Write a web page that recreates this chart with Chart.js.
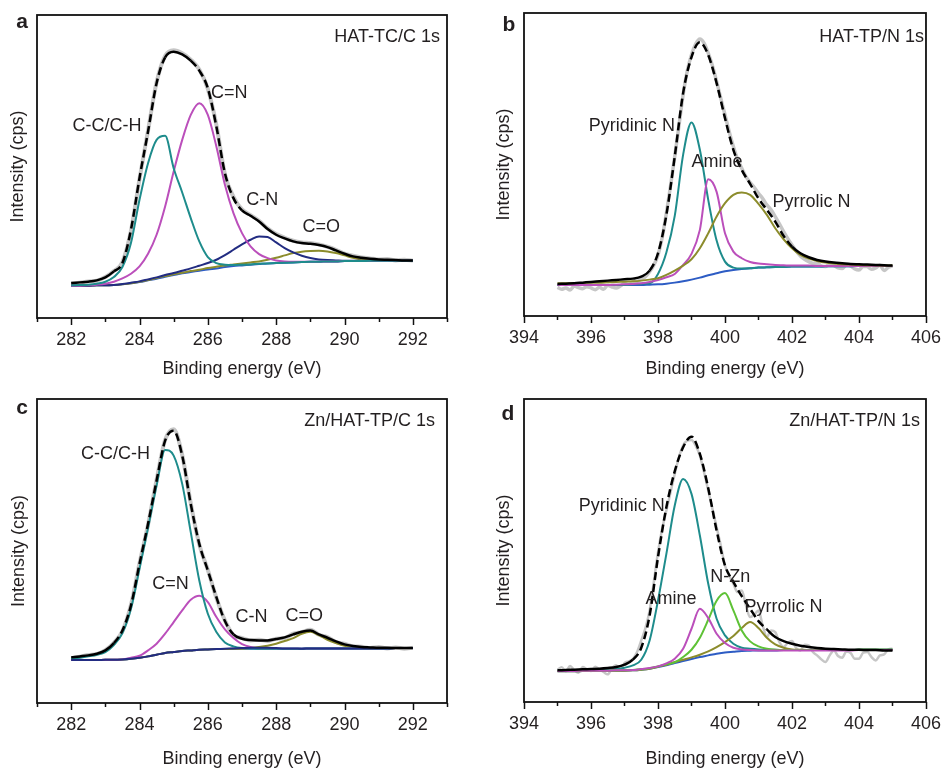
<!DOCTYPE html>
<html>
<head>
<meta charset="utf-8">
<script src="https://cdn.jsdelivr.net/npm/chart.js@4.4.1/dist/chart.umd.min.js"></script>
<style>
  body { margin: 0; background: #fff; }
  #wrap { position: relative; width: 952px; height: 768px; overflow: hidden; }
  .panel { position: absolute; width: 476px; height: 384px; }
</style>
</head>
<body>
<div id="wrap">
  <div class="panel" style="left:0;top:0"><canvas id="pa" width="476" height="384"></canvas></div>
  <div class="panel" style="left:476px;top:0"><canvas id="pb" width="476" height="384"></canvas></div>
  <div class="panel" style="left:0;top:384px"><canvas id="pc" width="476" height="384"></canvas></div>
  <div class="panel" style="left:476px;top:384px"><canvas id="pd" width="476" height="384"></canvas></div>
</div>
<script>
// ── C 1s panels (a, c): binding energy grid, eV ─────────────
const energyC1s = [282, 282.25, 282.5, 282.75, 283, 283.25, 283.5, 283.75, 284, 284.25,
  284.5, 284.75, 285, 285.25, 285.5, 285.75, 286, 286.25, 286.5, 286.75,
  287, 287.25, 287.5, 287.75, 288, 288.25, 288.5, 288.75, 289, 289.25,
  289.5, 289.75, 290, 290.25, 290.5, 290.75, 291, 291.25, 291.5, 291.75, 292];

// ── N 1s panels (b, d): binding energy grid, eV ─────────────
const energyN1s = [395, 395.25, 395.5, 395.75, 396, 396.25, 396.5, 396.75, 397, 397.25,
  397.5, 397.75, 398, 398.25, 398.5, 398.75, 399, 399.25, 399.5, 399.75,
  400, 400.25, 400.5, 400.75, 401, 401.25, 401.5, 401.75, 402, 402.25,
  402.5, 402.75, 403, 403.25, 403.5, 403.75, 404, 404.25, 404.5, 404.75, 405];

// Rejilla más fina para los datos medidos (ruidosos) del N 1s
const energyN1sRaw = [
  395, 395.125, 395.25, 395.375, 395.5, 395.625, 395.75, 395.875,
  396, 396.125, 396.25, 396.375, 396.5, 396.625, 396.75, 396.875,
  397, 397.125, 397.25, 397.375, 397.5, 397.625, 397.75, 397.875,
  398, 398.125, 398.25, 398.375, 398.5, 398.625, 398.75, 398.875,
  399, 399.125, 399.25, 399.375, 399.5, 399.625, 399.75, 399.875,
  400, 400.125, 400.25, 400.375, 400.5, 400.625, 400.75, 400.875,
  401, 401.125, 401.25, 401.375, 401.5, 401.625, 401.75, 401.875,
  402, 402.125, 402.25, 402.375, 402.5, 402.625, 402.75, 402.875,
  403, 403.125, 403.25, 403.375, 403.5, 403.625, 403.75, 403.875,
  404, 404.125, 404.25, 404.375, 404.5, 404.625, 404.75, 404.875, 405];

const ticksC1s = [282, 284, 286, 288, 290, 292];
const ticksN1s = [394, 396, 398, 400, 402, 404, 406];

// ── a: HAT-TC/C 1s (intensidad en unidades arbitrarias) ─────
const rawA = [103,106,110,112,123,141,168,262,418,563, 708,787,804,795,776,746,688,580,432,364,
  326,309,292,269,252,241,232,227,225,221, 214,205,193,187,182,179,176,177,173,175, 172];
const fitA = [105,107,109,113,122,140,165,265,420,560, 705,783,800,792,773,743,690,575,435,360,
  323,307,290,267,250,239,230,225,223,219, 213,203,193,185,181,178,176,175,174,173, 173];
const ccA = [98,99,100,103,109,123,153,225,355,465, 535,547,450,377,300,230,183,165,160,159,
  160,161,163,164,165,166,167,168,169,169, 170,170,171,171,171,172,172,172,172,172, 172];
const cnDoubleA = [97,97,98,100,103,109,119,133,155,193, 250,335,440,535,610,645,610,515,400,315,
  255,215,192,180,173,170,169,169,169,169, 170,170,171,171,171,172,172,172,172,172, 172];
const cnSingleA = [97,97,97,98,98,99,102,106,110,116, 122,129,135,142,149,157,165,175,189,205,
  221,235,245,243,227,210,197,187,180,176, 174,173,172,172,172,172,172,172,172,172, 172];
const coA = [97,97,97,98,98,99,101,104,109,114, 120,126,131,136,141,145,150,154,158,161,
  164,167,170,175,181,188,195,199,201,202, 200,195,188,181,176,173,172,172,172,172, 172];
const bgA = [97,97,97,98,98,99,101,104,108,113, 118,124,129,134,138,142,146,149,153,156,
  158,160,162,164,165,166,167,168,169,169, 170,170,171,171,171,172,172,172,172,172, 172];

// ── b: HAT-TP/N 1s ──────────────────────────────────────────
const rawB = [86,80,84,78,90,85,82,88, 84,79,86,80,92,87,84,90,
  98,95,102,104,110,118,133,152, 183,235,308,390,478,570,663,735,
  783,815,830,818,788,750,703,652, 603,552,508,470,443,418,400,385,
  368,352,333,318,298,276,253,232, 213,195,180,170,163,158,158,150,
  148,155,152,144,142,153,150,141, 138,149,148,140,144,152,136,146, 150];
const fitB = [96,97,98,100,102,104,106,108,110,112, 118,136,188,303,478,668,776,820,782,698,
  593,498,438,396,352,318,283,240,208,188, 176,168,163,160,158,156,155,154,153,152, 151];
const pyridinicB = [93,93,93,93,93,93,93,93,93,95, 97,98,126,190,300,483,580,498,348,226,
  163,145,142,143,145,146,147,147,148,148, 148,148,149,149,149,149,150,150,150,150, 150];
const amineB = [93,93,93,93,93,93,93,94,95,96, 98,102,108,116,126,153,186,258,410,372,
  248,193,173,162,157,155,153,152,151,151, 151,150,150,150,150,150,150,150,150,150, 150];
const pyrrolicB = [98,98,99,99,100,100,101,102,103,104, 106,109,113,123,136,151,170,203,248,298,
  338,363,370,363,336,303,263,230,203,183, 172,165,160,157,155,154,153,152,152,151, 151];
const bgB = [93,93,93,93,93,93,93,93,93,93, 93,94,95,97,100,104,109,115,122,128,
  134,138,141,143,145,146,147,147,148,148, 148,148,149,149,149,149,150,150,150,150, 150];

// ── c: Zn/HAT-TP/C 1s ───────────────────────────────────────
const rawC = [135,139,144,147,159,181,216,295,420,536, 670,790,822,745,600,476,400,316,248,204,
  195,188,190,186,193,195,208,213,220,205, 198,183,178,170,169,165,168,164,167,163, 166];
const fitC = [137,140,143,148,158,180,218,293,418,538, 668,788,818,743,598,478,398,318,246,206,
  193,189,188,188,192,197,206,214,218,206, 196,185,176,171,168,167,166,166,165,165, 165];
const ccC = [133,136,140,145,153,174,210,283,403,526, 653,760,743,658,513,368,268,213,182,170,
  165,164,163,163,163,163,163,163,164,164, 164,164,164,164,164,164,164,164,165,165, 165];
const cnDoubleC = [129,129,129,129,130,130,131,136,142,158, 178,208,243,278,310,322,303,258,221,195,
  177,168,164,163,163,163,163,163,164,164, 164,164,164,164,164,164,164,164,165,165, 165];
const cnSingleC = [129,129,129,129,130,130,131,133,136,140, 145,150,153,156,158,160,161,162,163,164,
  165,166,166,166,165,164,164,163,164,164, 164,164,164,164,164,164,164,164,165,165, 165];
const coC = [129,129,129,129,130,130,131,133,136,140, 145,150,153,156,158,160,161,162,162,163,
  163,165,168,172,178,186,195,208,214,204, 190,180,172,168,165,164,164,164,165,165, 165];
const bgC = [129,129,129,129,130,130,131,133,136,140, 145,150,153,156,158,160,161,162,162,163,
  163,163,163,163,163,163,163,163,164,164, 164,164,164,164,164,164,164,164,165,165, 165];

// ── d: Zn/HAT-TP/N 1s ───────────────────────────────────────
const rawD = [97,104,92,108,96,88,105,99, 93,106,98,90,83,101,110,96,
  117,122,129,150,185,222,275,360, 450,520,575,630,685,735,770,785,
  787,770,740,690,635,580,525,470, 410,380,355,330,335,290,255,262,
  275,230,195,215,210,180,165,178, 183,162,155,172,170,150,140,128,
  120,140,155,138,133,152,147,130, 130,148,150,135,125,140,143,158, 160];
const fitD = [95,96,97,98,99,100,102,105,112,127, 163,260,435,585,693,765,797,745,642,515,
  410,361,318,280,243,218,195,183,175,169, 165,162,160,159,158,157,157,156,156,155, 155];
const pyridinicD = [94,94,95,95,96,96,97,99,103,110, 127,185,305,445,590,670,625,500,355,250,
  200,175,163,160,158,157,157,156,156,156, 156,156,156,156,156,156,157,157,157,157, 157];
const amineD = [93,93,93,94,94,94,94,95,95,96, 99,102,107,116,130,160,220,280,252,205,
  177,163,158,156,155,155,155,155,155,155, 155,155,155,155,155,155,156,156,156,156, 156];
const nznD = [93,93,93,94,94,94,94,95,95,96, 98,101,107,113,119,135,157,193,247,304,
  327,275,215,182,167,160,157,156,156,156, 156,156,156,156,156,156,157,157,157,157, 157];
const pyrrolicD = [92,92,92,93,93,93,93,94,94,95, 97,100,106,112,120,127,134,142,152,165,
  180,198,222,240,222,193,173,163,158,157, 156,156,156,156,156,156,157,157,157,157, 157];
const bgD = [92,92,92,93,93,93,93,94,94,95, 97,100,105,110,117,123,129,135,140,145,
  149,151,153,154,155,155,155,156,156,156, 156,156,156,156,156,156,157,157,157,157, 157];


// ─────────────────────────────────────────────────────────────
// Estilos comunes
// ─────────────────────────────────────────────────────────────
const FONT = '"Liberation Sans", Arial, Helvetica, sans-serif';
const TXT = '#231f20';
const COLORES = {
  raw: '#c6c6c6', fit: '#000000', teal: '#1e8c8c', magenta: '#bb4fbb',
  navy: '#222c82', olive: '#8c8c2c', blue: '#2d5cc4', green: '#5ec236'
};

// Marco, marcas del eje, letras y etiquetas de los picos
const decorPlugin = {
  id: 'decor',
  afterDraw(chart, args, o) {
    const { ctx, chartArea: ca, scales: { x, y } } = chart;
    ctx.save();
    ctx.strokeStyle = '#111';
    ctx.lineWidth = 1.5;
    x.ticks.forEach(t => {
      const px = Math.round(x.getPixelForValue(t.value)) + 0.5;
      const len = t.value % 2 === 0 ? 7 : 4;
      ctx.beginPath();
      ctx.moveTo(px, ca.bottom);
      ctx.lineTo(px, ca.bottom + len);
      ctx.stroke();
    });
    ctx.lineWidth = 1.8;
    ctx.strokeRect(ca.left, ca.top, ca.right - ca.left, ca.bottom - ca.top);

    ctx.fillStyle = TXT;
    ctx.font = '18px ' + FONT;
    ctx.textAlign = 'center';
    ctx.textBaseline = 'middle';
    o.notes.forEach(n => {
      ctx.fillText(n.text, x.getPixelForValue(n.x), y.getPixelForValue(n.y));
    });
    ctx.textAlign = 'right';
    ctx.fillText(o.title, o.titleX, o.titleY);
    ctx.font = 'bold 21px ' + FONT;
    ctx.textAlign = 'center';
    ctx.fillText(o.letter, o.letterX, o.letterY);
    ctx.restore();
  }
};

// Línea punteada sólo donde la curva es empinada (como en el original)
function dashSteep(c) {
  const dx = Math.abs(c.p1.x - c.p0.x);
  const dy = Math.abs(c.p1.y - c.p0.y);
  return dy > 0.95 * dx ? [8, 4] : [];
}

function serie(energy, values, color, width, extra) {
  return Object.assign({
    data: energy.map((e, i) => ({ x: e, y: values[i] })),
    borderColor: color,
    borderWidth: width,
    pointRadius: 0,
    fill: false,
    cubicInterpolationMode: 'monotone'
  }, extra || {});
}

function crearPanel(id, p) {
  const ctx = document.getElementById(id).getContext('2d');
  return new Chart(ctx, {
    type: 'line',
    data: { datasets: p.datasets },
    options: {
      responsive: false,
      animation: false,
      devicePixelRatio: 1,
      layout: { padding: { left: 0, top: p.box.top, right: 476 - p.box.right, bottom: 0 } },
      plugins: {
        legend: { display: false },
        tooltip: { enabled: false },
        decor: p.decor
      },
      scales: {
        x: {
          type: 'linear',
          min: p.xMin, max: p.xMax,
          afterFit: s => { s.height = 384 - p.box.bottom; },
          afterBuildTicks: s => {
            const t = [];
            for (let v = p.xMin; v <= p.xMax; v++) t.push({ value: v });
            s.ticks = t;
          },
          grid: { display: false, drawTicks: false },
          border: { display: false },
          ticks: {
            autoSkip: false, maxRotation: 0, padding: 11, color: TXT,
            font: { family: FONT, size: 18 },
            callback: v => (p.tickLabels.includes(v) ? String(v) : '')
          },
          title: {
            display: true, text: 'Binding energy (eV)', color: TXT,
            font: { family: FONT, size: 18, lineHeight: 1 },
            padding: { top: 0, bottom: p.xTitlePad }
          }
        },
        y: {
          min: 0, max: p.yMax,
          afterFit: s => { s.width = p.box.left; },
          grid: { display: false, drawTicks: false },
          border: { display: false },
          ticks: { display: false },
          title: {
            display: true, text: 'Intensity (cps)', color: TXT,
            font: { family: FONT, size: 18, lineHeight: 1 },
            padding: { top: p.yTitlePad, bottom: 0 }
          }
        }
      }
    },
    plugins: [decorPlugin]
  });
}

const dashed = { segment: { borderDash: dashSteep } };

// ── Panel a ─────────────────────────────────────────────────
crearPanel('pa', {
  xMin: 281, xMax: 293, yMax: 910, tickLabels: ticksC1s,
  box: { left: 37, top: 15, right: 447, bottom: 318 },
  xTitlePad: 6, yTitlePad: 9,
  datasets: [
    serie(energyC1s, fitA, COLORES.fit, 2.5, dashed),
    serie(energyC1s, ccA, COLORES.teal, 2),
    serie(energyC1s, cnDoubleA, COLORES.magenta, 2),
    serie(energyC1s, cnSingleA, COLORES.navy, 2),
    serie(energyC1s, coA, COLORES.olive, 2),
    serie(energyC1s, bgA, COLORES.blue, 2),
    serie(energyC1s, rawA, COLORES.raw, 4)
  ],
  decor: {
    letter: 'a', letterX: 22, letterY: 22,
    title: 'HAT-TC/C 1s', titleX: 440, titleY: 37,
    notes: [
      { text: 'C-C/C-H', x: 283.05, y: 577 },
      { text: 'C=N', x: 286.63, y: 677 },
      { text: 'C-N', x: 287.59, y: 353 },
      { text: 'C=O', x: 289.32, y: 272 }
    ]
  }
});

// ── Panel b ─────────────────────────────────────────────────
crearPanel('pb', {
  xMin: 394, xMax: 406, yMax: 908, tickLabels: ticksN1s,
  box: { left: 48, top: 13, right: 457, bottom: 316 },
  xTitlePad: 6, yTitlePad: 19,
  datasets: [
    serie(energyN1s, fitB, COLORES.fit, 2.5, dashed),
    serie(energyN1s, pyrrolicB, COLORES.olive, 2),
    serie(energyN1s, amineB, COLORES.magenta, 2),
    serie(energyN1s, pyridinicB, COLORES.teal, 2),
    serie(energyN1s, bgB, COLORES.blue, 2),
    serie(energyN1sRaw, rawB, COLORES.raw, 3.5)
  ],
  decor: {
    letter: 'b', letterX: 33, letterY: 25,
    title: 'HAT-TP/N 1s', titleX: 448, titleY: 37,
    notes: [
      { text: 'Pyridinic N', x: 397.22, y: 570 },
      { text: 'Amine', x: 399.76, y: 461 },
      { text: 'Pyrrolic N', x: 402.58, y: 343 }
    ]
  }
});

// ── Panel c ─────────────────────────────────────────────────
crearPanel('pc', {
  xMin: 281, xMax: 293, yMax: 913, tickLabels: ticksC1s,
  box: { left: 37, top: 15, right: 447, bottom: 319 },
  xTitlePad: 0, yTitlePad: 10,
  datasets: [
    serie(energyC1s, fitC, COLORES.fit, 2.5, dashed),
    serie(energyC1s, cnSingleC, COLORES.navy, 2),
    serie(energyC1s, ccC, COLORES.teal, 2),
    serie(energyC1s, cnDoubleC, COLORES.magenta, 2),
    serie(energyC1s, coC, COLORES.olive, 2),
    serie(energyC1s, bgC, COLORES.blue, 2),
    serie(energyC1s, rawC, COLORES.raw, 4)
  ],
  decor: {
    letter: 'c', letterX: 22, letterY: 24,
    title: 'Zn/HAT-TP/C 1s', titleX: 435, titleY: 37,
    notes: [
      { text: 'C-C/C-H', x: 283.3, y: 748 },
      { text: 'C=N', x: 284.91, y: 358 },
      { text: 'C-N', x: 287.28, y: 258 },
      { text: 'C=O', x: 288.82, y: 261 }
    ]
  }
});

// ── Panel d ─────────────────────────────────────────────────
crearPanel('pd', {
  xMin: 394, xMax: 406, yMax: 910, tickLabels: ticksN1s,
  box: { left: 48, top: 15, right: 455, bottom: 318 },
  xTitlePad: 0, yTitlePad: 19,
  datasets: [
    serie(energyN1s, fitD, COLORES.fit, 2.5, dashed),
    serie(energyN1s, amineD, COLORES.magenta, 2),
    serie(energyN1s, nznD, COLORES.green, 2),
    serie(energyN1s, pyrrolicD, COLORES.olive, 2),
    serie(energyN1s, pyridinicD, COLORES.teal, 2),
    serie(energyN1s, bgD, COLORES.blue, 2),
    serie(energyN1sRaw, rawD, COLORES.raw, 2.5)
  ],
  decor: {
    letter: 'd', letterX: 32, letterY: 30,
    title: 'Zn/HAT-TP/N 1s', titleX: 444, titleY: 37,
    notes: [
      { text: 'Pyridinic N', x: 396.92, y: 590 },
      { text: 'Amine', x: 398.39, y: 310 },
      { text: 'N-Zn', x: 400.16, y: 375 },
      { text: 'Pyrrolic N', x: 401.75, y: 285 }
    ]
  }
});
</script>
</body>
</html>
